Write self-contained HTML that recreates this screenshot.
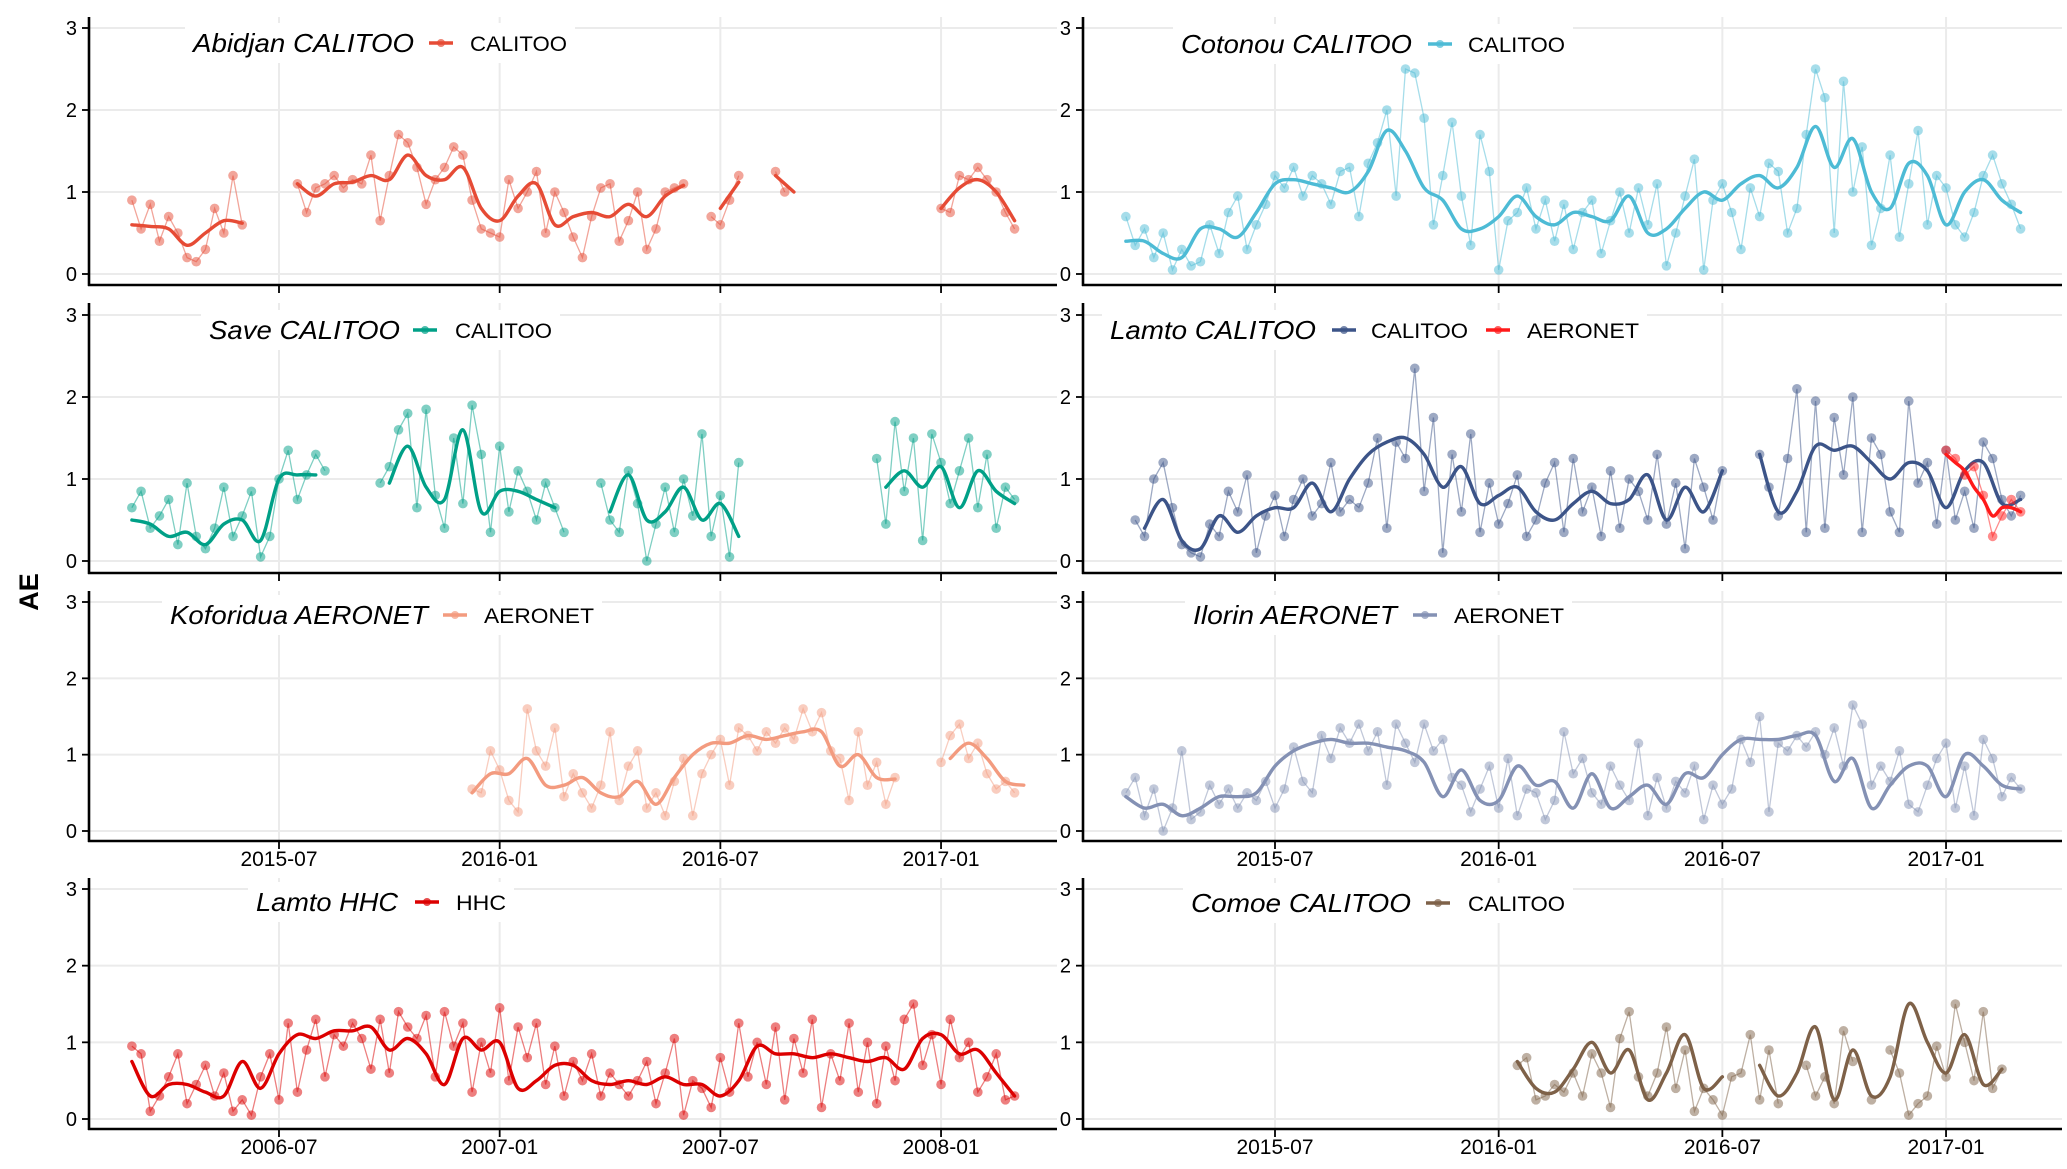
<!DOCTYPE html>
<html><head><meta charset="utf-8"><style>
html,body{margin:0;padding:0;background:#fff}
svg{display:block}
text{font-family:"Liberation Sans",sans-serif}
</style></head><body>
<svg id="chart" width="2067" height="1169" viewBox="0 0 2067 1169" xmlns="http://www.w3.org/2000/svg">
<text x="0" y="0" transform="translate(38,592) rotate(-90)" text-anchor="middle" font-weight="bold" font-size="27">AE</text>
</svg>
<script>
// ---- data (months from 2015-07 / 2006-07; line step 0.5 month, point step 0.25 month) ----
const yTicks = [0,1,2,3];
const xTickMonths = [0,6,12,18];
const xTickLabelsRight = ["2015-07","2016-01","2016-07","2017-01"];
const xTickLabelsLeftRow3 = ["2015-07","2016-01","2016-07","2017-01"];
const xTickLabelsLeftRow4 = ["2006-07","2007-01","2007-07","2008-01"];

const abidjanLineStart = -4;
const abidjanLine = [0.6,0.58,0.55,0.35,0.5,0.65,0.62,null,null,1.1,0.95,1.1,1.12,1.2,1.15,1.45,1.2,1.15,1.3,0.8,0.65,0.95,1.1,0.6,0.7,0.75,0.7,0.85,0.7,0.95,1.08,null,0.8,1.12,null,1.2,1.0,null,null,null,null,null,null,null,0.8,1.05,1.15,1.0,0.65];
const abidjanPtsStart = -4;
const abidjanPts = [0.9,0.55,0.85,0.4,0.7,0.5,0.2,0.15,0.3,0.8,0.5,1.2,0.6,null,null,null,null,null,1.1,0.75,1.05,1.1,1.2,1.05,1.15,1.1,1.45,0.65,1.2,1.7,1.6,1.3,0.85,1.15,1.3,1.55,1.45,0.9,0.55,0.5,0.45,1.15,0.8,1.0,1.25,0.5,1.0,0.75,0.45,0.2,0.7,1.05,1.1,0.4,0.65,1.0,0.3,0.55,1.0,1.05,1.1,null,null,0.7,0.6,0.9,1.2,null,null,null,1.25,1.0,null,null,null,null,null,null,null,null,null,null,null,null,null,null,null,null,0.8,0.75,1.2,1.15,1.3,1.15,1.0,0.75,0.55];

const cotonouLineStart = -4;
const cotonouLine = [0.4,0.4,0.25,0.2,0.55,0.55,0.45,0.75,1.1,1.15,1.1,1.05,1.0,1.25,1.75,1.5,1.05,0.9,0.55,0.55,0.7,0.95,0.7,0.6,0.75,0.7,0.65,0.95,0.5,0.55,0.8,1.0,0.9,1.1,1.2,1.05,1.3,1.8,1.3,1.65,1.0,0.8,1.35,1.2,0.6,1.0,1.15,0.9,0.75];
const cotonouPtsStart = -4;
const cotonouPts = [0.7,0.35,0.55,0.2,0.5,0.05,0.3,0.1,0.15,0.6,0.25,0.75,0.95,0.3,0.6,0.85,1.2,1.05,1.3,0.95,1.2,1.1,0.85,1.25,1.3,0.7,1.35,1.6,2.0,0.95,2.5,2.45,1.9,0.6,1.2,1.85,0.95,0.35,1.7,1.25,0.05,0.65,0.75,1.05,0.55,0.9,0.4,0.85,0.3,0.75,0.9,0.25,0.65,1.0,0.5,1.05,0.6,1.1,0.1,0.5,0.95,1.4,0.05,0.9,1.1,0.75,0.3,1.05,0.7,1.35,1.25,0.5,0.8,1.7,2.5,2.15,0.5,2.35,1.0,1.55,0.35,0.8,1.45,0.45,1.1,1.75,0.6,1.2,1.05,0.6,0.45,0.75,1.2,1.45,1.1,0.85,0.55];

const saveLineStart = -4;
const saveLine = [0.5,0.45,0.3,0.35,0.2,0.45,0.5,0.25,1.0,1.05,1.05,null,null,null,0.95,1.4,0.9,0.75,1.6,0.6,0.85,0.85,0.75,0.65,null,null,0.6,1.05,0.5,0.6,0.9,0.5,0.7,0.3,null,null,null,null,null,null,null,0.9,1.1,0.9,1.15,0.65,1.1,0.85,0.7];
const savePtsStart = -4;
const savePts = [0.65,0.85,0.4,0.55,0.75,0.2,0.95,0.3,0.15,0.4,0.9,0.3,0.55,0.85,0.05,0.3,1.0,1.35,0.75,1.05,1.3,1.1,null,null,null,null,null,0.95,1.15,1.6,1.8,0.65,1.85,0.8,0.4,1.5,0.7,1.9,1.3,0.35,1.4,0.6,1.1,0.85,0.5,0.95,0.65,0.35,null,null,null,0.95,0.5,0.35,1.1,0.7,0.0,0.45,0.9,0.35,1.0,0.55,1.55,0.3,0.8,0.05,1.2,null,null,null,null,null,null,null,null,null,null,null,null,null,null,1.25,0.45,1.7,0.85,1.5,0.25,1.55,1.2,0.7,1.1,1.5,0.65,1.3,0.4,0.9,0.75];

const lamtoLineStart = -4;
const lamtoLine = [null,0.4,0.75,0.25,0.15,0.55,0.35,0.55,0.65,0.65,0.95,0.6,1.0,1.3,1.45,1.5,1.3,0.9,1.15,0.7,0.8,0.9,0.6,0.5,0.7,0.85,0.7,0.75,1.05,0.5,0.9,0.6,1.1,null,1.3,0.6,0.85,1.4,1.35,1.4,1.2,1.0,1.2,1.1,0.65,1.1,1.2,0.7,0.75];
const lamtoPtsStart = -4;
const lamtoPts = [null,0.5,0.3,1.0,1.2,0.65,0.2,0.1,0.05,0.45,0.3,0.85,0.6,1.05,0.1,0.55,0.8,0.3,0.75,1.0,0.55,0.7,1.2,0.6,0.75,0.65,0.95,1.5,0.4,1.45,1.25,2.35,0.85,1.75,0.1,1.3,0.6,1.55,0.35,0.95,0.45,0.7,1.05,0.3,0.5,0.95,1.2,0.35,1.25,0.6,0.9,0.3,1.1,0.4,1.0,0.85,0.5,1.3,0.45,0.95,0.15,1.25,0.9,0.5,1.1,null,null,null,1.3,0.9,0.55,1.25,2.1,0.35,1.95,0.4,1.75,1.05,2.0,0.35,1.5,1.3,0.6,0.35,1.95,0.95,1.2,0.45,1.35,0.5,0.85,0.4,1.45,1.25,0.75,0.55,0.8];
const lamtoAeroLineStart = 18;
const lamtoAeroLine = [1.3,1.2,1.1,0.9,0.75,0.55,0.65,0.65,0.6];
const lamtoAeroPts = [1.35,1.25,1.05,1.15,0.8,0.3,0.55,0.75,0.6];

const koforiduaLineStart = 5.25;
const koforiduaLine = [0.5,0.75,0.75,0.95,0.6,0.6,0.7,0.5,0.45,0.65,0.35,0.7,1.0,1.15,1.15,1.25,1.2,1.25,1.3,1.3,0.85,1.0,0.7,0.68,null,null,0.95,1.15,0.95,0.65,0.6];
const koforiduaPtsStart = 5.25;
const koforiduaPts = [0.55,0.5,1.05,0.8,0.4,0.25,1.6,1.05,0.85,1.35,0.45,0.75,0.5,0.3,0.6,1.3,0.4,0.85,1.05,0.3,0.5,0.2,0.65,0.95,0.2,0.75,1.0,1.2,0.6,1.35,1.25,1.05,1.3,1.15,1.35,1.2,1.6,1.3,1.55,1.05,0.95,0.4,1.3,0.6,0.9,0.35,0.7,null,null,null,null,0.9,1.25,1.4,0.95,1.15,0.75,0.55,0.65,0.5];

const ilorinLineStart = -4;
const ilorinLine = [0.45,0.3,0.35,0.2,0.3,0.45,0.45,0.5,0.85,1.05,1.15,1.2,1.15,1.15,1.1,1.05,0.9,0.45,0.8,0.4,0.4,0.85,0.6,0.65,0.3,0.75,0.3,0.45,0.6,0.35,0.75,0.7,1.0,1.2,1.2,1.2,1.25,1.25,0.65,0.95,0.3,0.6,0.85,0.85,0.45,1.0,0.85,0.6,0.55];
const ilorinPtsStart = -4;
const ilorinPts = [0.5,0.7,0.2,0.55,0.0,0.3,1.05,0.15,0.25,0.6,0.35,0.55,0.3,0.5,0.4,0.65,0.3,0.55,1.1,0.65,0.5,1.25,0.95,1.35,1.15,1.4,1.05,1.3,0.6,1.4,1.15,0.9,1.4,1.05,1.2,0.7,0.6,0.25,0.55,0.85,0.3,0.95,0.2,0.55,0.5,0.15,0.4,1.3,0.75,0.95,0.5,0.35,0.85,0.6,0.4,1.15,0.2,0.7,0.3,0.65,0.5,0.85,0.15,0.6,0.35,0.55,1.2,0.9,1.5,0.25,1.15,1.05,1.25,1.1,1.3,1.0,1.35,0.85,1.65,1.4,0.6,0.85,0.65,1.05,0.35,0.25,0.6,0.95,1.15,0.3,0.85,0.2,1.2,0.95,0.45,0.7,0.55];

const hhcLineStart = -4;
const hhcLine = [0.75,0.3,0.45,0.45,0.35,0.3,0.75,0.4,0.85,1.1,1.05,1.15,1.15,1.2,0.9,1.05,0.85,0.45,1.05,0.9,1.0,0.4,0.5,0.7,0.7,0.5,0.45,0.5,0.45,0.55,0.45,0.45,0.3,0.5,0.95,0.85,0.85,0.8,0.85,0.8,0.75,0.8,0.65,1.05,1.1,0.85,0.9,0.6,0.3];
const hhcPtsStart = -4;
const hhcPts = [0.95,0.85,0.1,0.3,0.55,0.85,0.2,0.45,0.7,0.3,0.6,0.1,0.25,0.05,0.55,0.85,0.25,1.25,0.35,0.9,1.3,0.55,1.1,0.95,1.25,1.05,0.65,1.3,0.6,1.4,1.2,1.05,1.35,0.55,1.4,0.95,1.25,0.35,1.0,0.6,1.45,0.5,1.2,0.8,1.25,0.45,0.95,0.3,0.75,0.5,0.85,0.3,0.6,0.45,0.3,0.5,0.75,0.2,0.6,1.05,0.05,0.5,0.4,0.15,0.8,0.35,1.25,0.55,1.0,0.45,1.2,0.25,1.05,0.6,1.3,0.15,0.85,0.5,1.25,0.35,1.0,0.2,0.95,0.5,1.3,1.5,0.7,1.1,0.45,1.3,0.8,1.0,0.35,0.55,0.85,0.25,0.3];

const comoeLineStart = 6.5;
const comoeLine = [0.75,0.4,0.35,0.65,1.0,0.6,0.9,0.25,0.6,1.1,0.4,0.55,null,0.7,0.3,0.6,1.2,0.25,0.9,0.3,0.55,1.5,1.0,0.6,1.1,0.45,0.65];
const comoePtsStart = 6.5;
const comoePts = [0.7,0.8,0.25,0.3,0.45,0.35,0.6,0.3,0.85,0.6,0.15,1.05,1.4,0.55,0.3,0.6,1.2,0.4,0.9,0.1,0.4,0.25,0.05,0.55,0.6,1.1,0.25,0.9,0.2,null,null,0.7,0.3,0.55,0.2,1.15,0.75,null,0.25,null,0.9,0.6,0.05,0.2,0.3,0.95,0.55,1.5,1.0,0.5,1.4,0.4,0.65];

// ---- rendering ----
const NS = "http://www.w3.org/2000/svg";
const svg = document.getElementById('chart');
function mk(tag, attrs, parent){
  const e = document.createElementNS(NS, tag);
  for (const k in attrs) e.setAttribute(k, attrs[k]);
  (parent||svg).appendChild(e);
  return e;
}
function smoothPath(p){
  if (p.length < 2) return '';
  let d = 'M' + p[0][0] + ',' + p[0][1];
  for (let i = 0; i < p.length-1; i++) {
    const p0 = p[i-1] || p[i], p1 = p[i], p2 = p[i+1], p3 = p[i+2] || p2;
    const c1x = p1[0] + (p2[0]-p0[0])/6, c1y = p1[1] + (p2[1]-p0[1])/6;
    const c2x = p2[0] - (p3[0]-p1[0])/6, c2y = p2[1] - (p3[1]-p1[1])/6;
    d += ' C' + c1x + ',' + c1y + ' ' + c2x + ',' + c2y + ' ' + p2[0] + ',' + p2[1];
  }
  return d;
}
const rows = [
  {top:17,y3:28,y0:274,axis:285},
  {top:303,y3:315,y0:561,axis:573},
  {top:591,y3:602,y0:831,axis:841},
  {top:878,y3:889,y0:1119,axis:1129}
];
const cols = [
  {ax:89,end:1057,x0:279,pm:36.78,lab:77},
  {ax:1083,end:2062,x0:1275,pm:37.28,lab:1071}
];

function panel(cfg){
  const r = rows[cfg.row], c = cols[cfg.col];
  const g = mk('g', {});
  
  
  const xs = m => c.x0 + m*c.pm;
  const ys = v => r.y0 - v*(r.y0-r.y3)/3;
  yTicks.forEach(t => {
    const l = mk('line', {x1:c.ax, x2:c.end, y1:ys(t), y2:ys(t), stroke:'#ebebeb', 'stroke-width':2}, g);
    
    
  });
  xTickMonths.forEach(t => {
    const l = mk('line', {x1:xs(t), x2:xs(t), y1:r.top, y2:r.axis, stroke:'#ebebeb', 'stroke-width':2}, g);
    
    
  });
  cfg.series.forEach(s => {
    const sg = mk('g', {}, g);
    
    
    let seg = [];
    const segs = [];
    s.pts.forEach((v,i) => {
      if (v === null) { if (seg.length) segs.push(seg); seg = []; }
      else seg.push([xs(s.ptsStart + i*s.ptsStep), ys(v)]);
    });
    if (seg.length) segs.push(seg);
    segs.forEach(sp => {
      if (sp.length > 1) {
        const pl = mk('polyline', {points: sp.map(p=>p.join(',')).join(' '), fill:'none', stroke:s.color, 'stroke-width':1.3, 'stroke-opacity':0.5}, sg);
        
        
      }
    });
    s.pts.forEach((v,i) => {
      if (v === null) return;
      const ci = mk('circle', {cx:xs(s.ptsStart + i*s.ptsStep), cy:ys(v), r:4.8, fill:s.color, 'fill-opacity':0.5}, sg);
      
      
    });
    let ls = [], lsegs = [];
    s.line.forEach((v,i) => {
      if (v === null) { if (ls.length) lsegs.push(ls); ls = []; }
      else ls.push([xs(s.lineStart + i*s.lineStep), ys(v)]);
    });
    if (ls.length) lsegs.push(ls);
    lsegs.forEach(sp => {
      if (sp.length < 2) return;
      const pl = mk('path', {d: smoothPath(sp), fill:'none', stroke:s.color, 'stroke-width':3.4, 'stroke-linejoin':'round', 'stroke-linecap':'round'}, sg);
      
      
    });
  });
  const ya = mk('line', {x1:c.ax, x2:c.ax, y1:r.top, y2:r.axis+1, stroke:'#000', 'stroke-width':2.6}, g);
  
  
  const xa = mk('line', {x1:c.ax-1, x2:c.end, y1:r.axis, y2:r.axis, stroke:'#000', 'stroke-width':2.6}, g);
  
  
  yTicks.forEach(t => {
    const tk = mk('line', {x1:c.ax-7, x2:c.ax, y1:ys(t), y2:ys(t), stroke:'#000', 'stroke-width':1.8}, g);
    
    
    const tl = mk('text', {x:c.lab, y:ys(t)+7, 'text-anchor':'end', 'font-size':20, fill:'#000'}, g);
    tl.textContent = t;
    
    
  });
  xTickMonths.forEach((t,i) => {
    const tk = mk('line', {x1:xs(t), x2:xs(t), y1:r.axis, y2:r.axis+8, stroke:'#000', 'stroke-width':1.8}, g);
    
    
    if (cfg.xLabels) {
      const tl = mk('text', {x:xs(t), y:r.axis+25, 'text-anchor':'middle', 'font-size':21, fill:'#000'}, g);
      tl.textContent = cfg.xLabels[i];
      
      
    }
  });
  const L = cfg.legend;
  const lg = mk('g', {}, g);
  
  
  const lastEnd = L.keys[L.keys.length-1].lx + L.keys[L.keys.length-1].lw;
  mk('rect', {x:L.tx-8, y:L.y-20, width:lastEnd-L.tx+16, height:40, fill:'#fff'}, lg);
  const tt = mk('text', {x:L.tx, y:L.y+9, 'font-size':26, 'font-style':'italic', textLength:L.tw, lengthAdjust:'spacingAndGlyphs', fill:'#000'}, lg);
  tt.textContent = L.title;
  
  
  L.keys.forEach(k => {
    const kl = mk('line', {x1:k.kx, x2:k.kx+24, y1:L.y, y2:L.y, stroke:k.color, 'stroke-width':3.4}, lg);
    
    
    mk('circle', {cx:k.kx+12, cy:L.y, r:4, fill:k.color, 'fill-opacity':0.7}, lg);
    const kt = mk('text', {x:k.lx, y:L.y+8, 'font-size':21, textLength:k.lw, lengthAdjust:'spacingAndGlyphs', fill:'#000'}, lg);
    kt.textContent = k.label;
    
    
  });
}

const C = {abidjan:'#E64B35', cotonou:'#4DBBD5', save:'#00A087', lamto:'#3C5488', aero:'#FF1A1A', kof:'#F39B7F', ilorin:'#8491B4', hhc:'#DC0000', comoe:'#7E6148'};

panel({name:'abidjan', row:0, col:0, series:[{label:'CALITOO', color:C.abidjan, line:abidjanLine, lineStart:abidjanLineStart, lineStep:0.5, pts:abidjanPts, ptsStart:abidjanPtsStart, ptsStep:0.25}],
  legend:{title:'Abidjan CALITOO', tx:193, tw:221, y:43, keys:[{label:'CALITOO', color:C.abidjan, kx:429, lx:470, lw:97}]}});
panel({name:'cotonou', row:0, col:1, series:[{label:'CALITOO', color:C.cotonou, line:cotonouLine, lineStart:cotonouLineStart, lineStep:0.5, pts:cotonouPts, ptsStart:cotonouPtsStart, ptsStep:0.25}],
  legend:{title:'Cotonou CALITOO', tx:1181, tw:231, y:44, keys:[{label:'CALITOO', color:C.cotonou, kx:1428, lx:1468, lw:97}]}});
panel({name:'save', row:1, col:0, series:[{label:'CALITOO', color:C.save, line:saveLine, lineStart:saveLineStart, lineStep:0.5, pts:savePts, ptsStart:savePtsStart, ptsStep:0.25}],
  legend:{title:'Save CALITOO', tx:209, tw:191, y:330, keys:[{label:'CALITOO', color:C.save, kx:413, lx:455, lw:97}]}});
panel({name:'lamto-calitoo', row:1, col:1, series:[
  {label:'CALITOO', color:C.lamto, line:lamtoLine, lineStart:lamtoLineStart, lineStep:0.5, pts:lamtoPts, ptsStart:lamtoPtsStart, ptsStep:0.25},
  {label:'AERONET', color:C.aero, line:lamtoAeroLine, lineStart:lamtoAeroLineStart, lineStep:0.25, pts:lamtoAeroPts, ptsStart:lamtoAeroLineStart, ptsStep:0.25}],
  legend:{title:'Lamto CALITOO', tx:1110, tw:206, y:330, keys:[{label:'CALITOO', color:C.lamto, kx:1332, lx:1371, lw:97},{label:'AERONET', color:C.aero, kx:1486, lx:1527, lw:112}]}});
panel({name:'koforidua', row:2, col:0, xLabels:xTickLabelsLeftRow3, series:[{label:'AERONET', color:C.kof, line:koforiduaLine, lineStart:koforiduaLineStart, lineStep:0.5, pts:koforiduaPts, ptsStart:koforiduaPtsStart, ptsStep:0.25}],
  legend:{title:'Koforidua AERONET', tx:170, tw:258, y:615, keys:[{label:'AERONET', color:C.kof, kx:443, lx:484, lw:110}]}});
panel({name:'ilorin', row:2, col:1, xLabels:xTickLabelsRight, series:[{label:'AERONET', color:C.ilorin, line:ilorinLine, lineStart:ilorinLineStart, lineStep:0.5, pts:ilorinPts, ptsStart:ilorinPtsStart, ptsStep:0.25}],
  legend:{title:'Ilorin AERONET', tx:1193, tw:204, y:615, keys:[{label:'AERONET', color:C.ilorin, kx:1413, lx:1454, lw:110}]}});
panel({name:'lamto-hhc', row:3, col:0, xLabels:xTickLabelsLeftRow4, series:[{label:'HHC', color:C.hhc, line:hhcLine, lineStart:hhcLineStart, lineStep:0.5, pts:hhcPts, ptsStart:hhcPtsStart, ptsStep:0.25}],
  legend:{title:'Lamto HHC', tx:256, tw:142, y:902, keys:[{label:'HHC', color:C.hhc, kx:415, lx:456, lw:50}]}});
panel({name:'comoe', row:3, col:1, xLabels:xTickLabelsRight, series:[{label:'CALITOO', color:C.comoe, line:comoeLine, lineStart:comoeLineStart, lineStep:0.5, pts:comoePts, ptsStart:comoePtsStart, ptsStep:0.25}],
  legend:{title:'Comoe CALITOO', tx:1191, tw:220, y:903, keys:[{label:'CALITOO', color:C.comoe, kx:1426, lx:1468, lw:97}]}});
</script>
</body></html>
